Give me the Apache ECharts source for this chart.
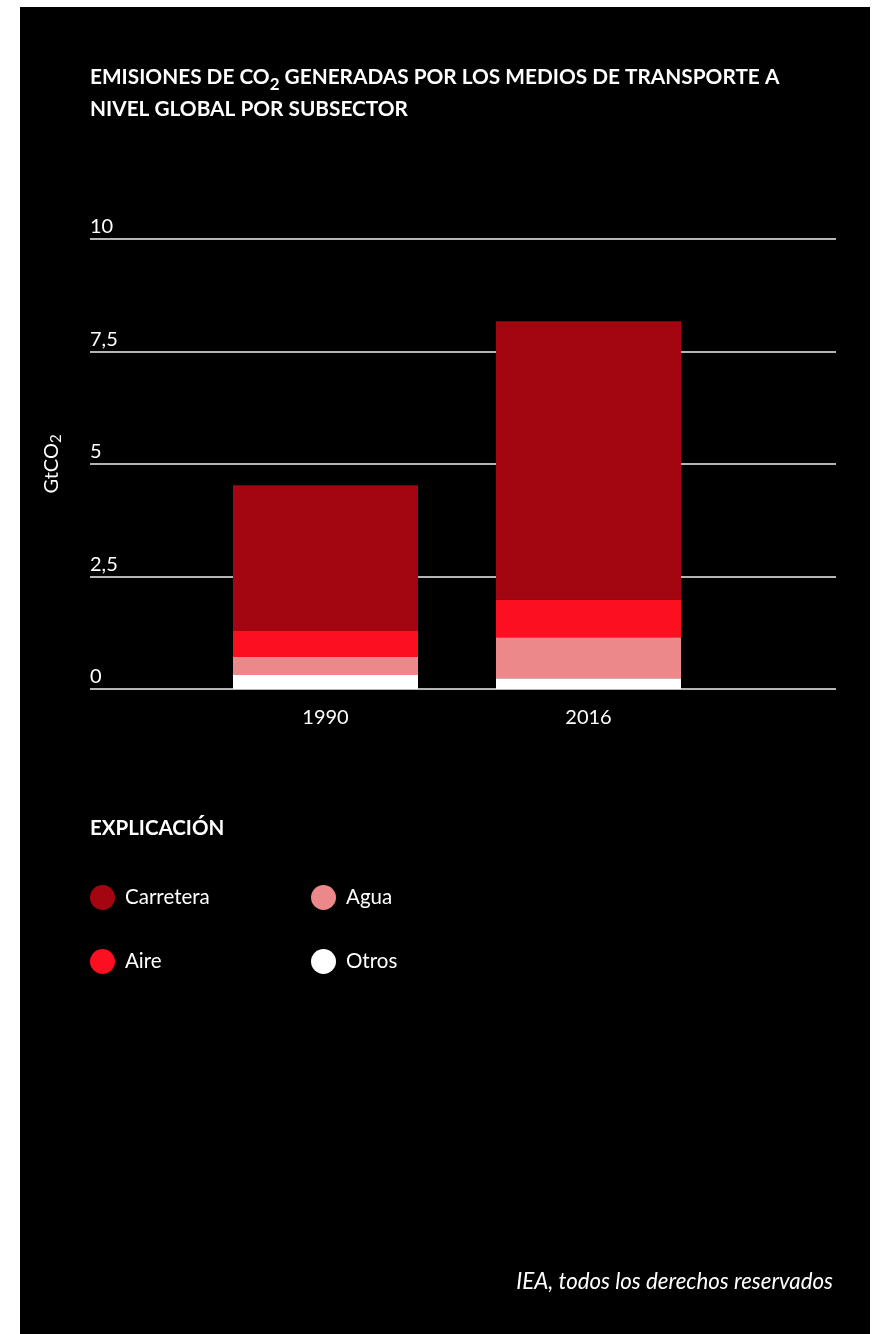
<!DOCTYPE html>
<html>
<head>
<meta charset="utf-8">
<script src="https://cdn.jsdelivr.net/npm/echarts@6/dist/echarts.min.js"></script>
<style>
  html, body { margin: 0; padding: 0; background: #fff; }
  #chart { width: 875px; height: 1334px; }
</style>
</head>
<body>
<div id="chart"></div>
<script>
  // datos (GtCO2)
  var years = ['1990', '2016'];
  var otros = [0.31, 0.24];
  var agua = [0.40, 0.91];
  var aire = [0.58, 0.84];
  var carretera = [3.24, 6.18];
  var yTicks = [0, 2.5, 5, 7.5, 10];

  var colors = {
    Carretera: '#a30610',
    Aire: '#fc0f1e',
    Agua: '#ec878a',
    Otros: '#ffffff'
  };

  var font = 'Lato';
  var chart = echarts.init(document.getElementById('chart'));

  function barSerie(name, data) {
    return {
      name: name,
      type: 'bar',
      stack: 'total',
      xAxisIndex: 0,
      yAxisIndex: 0,
      barWidth: 185,
      itemStyle: { color: colors[name] },
      data: data
    };
  }

  var legendBase = {
    top: 885,
    orient: 'vertical',
    icon: 'circle',
    padding: 0,
    itemWidth: 25,
    itemHeight: 25,
    itemGap: 39,
    selectedMode: false,
    textStyle: { color: '#fff', fontFamily: font, fontSize: 20.5, padding: [0, 0, 0, 5] }
  };

  chart.setOption({
    backgroundColor: '#fff',
    animation: false,
    graphic: [{
      type: 'rect',
      z: -10,
      silent: true,
      shape: { x: 20, y: 7, width: 850, height: 1327 },
      style: { fill: '#000' }
    }],
    title: [{
      text: '{t|EMISIONES DE CO}{s|2}{t| GENERADAS POR LOS MEDIOS DE TRANSPORTE A}\n{t|NIVEL GLOBAL POR SUBSECTOR}',
      left: 90,
      top: 61,
      padding: 0,
      textStyle: {
        rich: {
          t: { color: '#fff', fontFamily: font, fontWeight: 'bold', fontSize: 20.8, lineHeight: 32 },
          s: { color: '#fff', fontFamily: font, fontWeight: 'bold', fontSize: 17, lineHeight: 10, verticalAlign: 'bottom' }
        }
      }
    }, {
      text: 'EXPLICACIÓN',
      left: 90,
      top: 818,
      padding: 0,
      textStyle: { color: '#fff', fontFamily: font, fontWeight: 'bold', fontSize: 20.5 }
    }, {
      text: 'IEA, todos los derechos reservados',
      right: 42,
      top: 1271,
      padding: 0,
      textStyle: { color: '#fff', fontFamily: font, fontStyle: 'italic', fontWeight: 'normal', fontSize: 22.3 }
    }],
    legend: [
      Object.assign({ data: ['Carretera', 'Aire'], left: 90 }, legendBase),
      Object.assign({ data: ['Agua', 'Otros'], left: 311 }, legendBase)
    ],
    grid: [
      { left: 194, right: 155, top: 239, bottom: 645 },
      { left: 90, right: 39, top: 239, bottom: 645 }
    ],
    xAxis: [{
      gridIndex: 0,
      type: 'category',
      data: years,
      axisLine: { show: false },
      axisTick: { show: false },
      axisLabel: { color: '#fff', fontFamily: font, fontSize: 20, margin: 19 }
    }, {
      gridIndex: 1,
      type: 'value',
      show: false
    }],
    yAxis: [{
      gridIndex: 0,
      type: 'value',
      min: 0,
      max: 10,
      interval: 2.5,
      show: false
    }, {
      gridIndex: 1,
      type: 'value',
      min: yTicks[0],
      max: yTicks[yTicks.length - 1],
      interval: 2.5,
      name: '{a|GtCO}{s|2}',
      nameLocation: 'middle',
      nameRotate: 90,
      nameGap: 26,
      nameTextStyle: {
        rich: {
          a: { color: '#fff', fontFamily: font, fontSize: 20, lineHeight: 24 },
          s: { color: '#fff', fontFamily: font, fontSize: 15, lineHeight: 12, verticalAlign: 'bottom' }
        }
      },
      axisLine: { show: false },
      axisTick: { show: false },
      splitLine: { show: true, lineStyle: { color: '#f2f2f2', width: 1.5 } },
      axisLabel: {
        inside: true,
        margin: 0,
        color: '#fff',
        fontFamily: font,
        fontSize: 20,
        verticalAlign: 'bottom',
        padding: [0, 0, 2, 0],
        formatter: function (v) { return String(v).replace('.', ','); }
      }
    }],
    series: [
      barSerie('Otros', otros),
      barSerie('Agua', agua),
      barSerie('Aire', aire),
      barSerie('Carretera', carretera)
    ]
  });
</script>
</body>
</html>
